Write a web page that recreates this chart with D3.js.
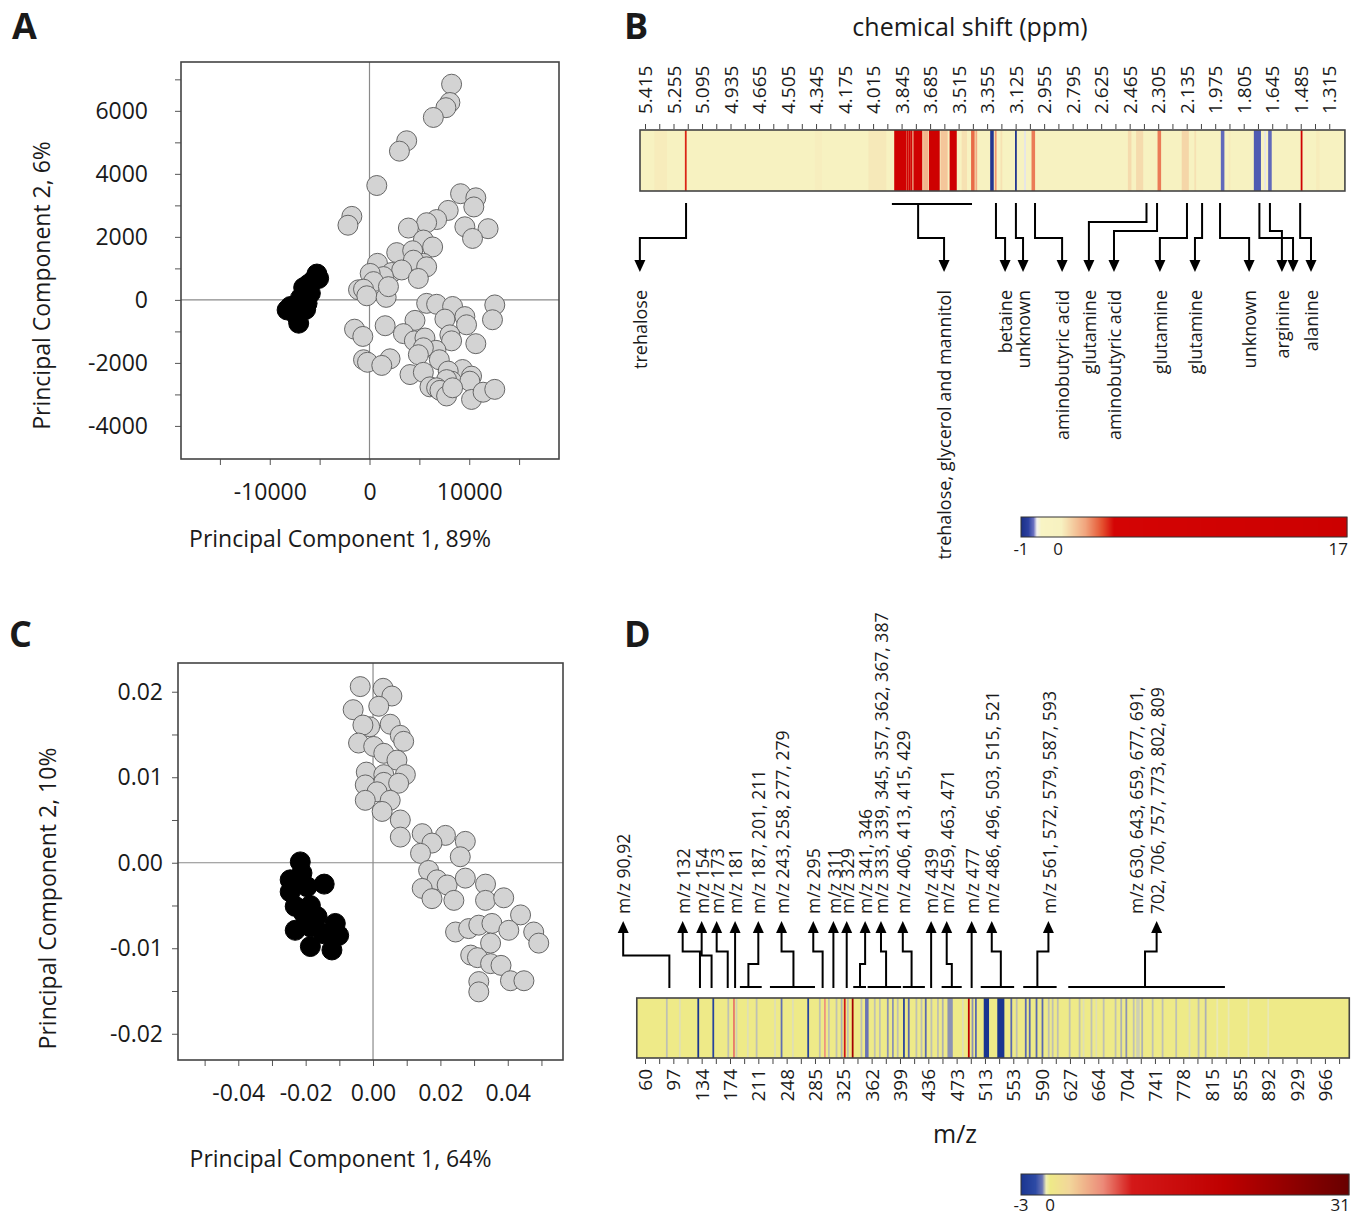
<!DOCTYPE html>
<html>
<head>
<meta charset="utf-8">
<script src="https://cdn.jsdelivr.net/npm/d3@7"></script>
<style>
  body { margin: 0; background: #fff; }
  text { font-family: "Open Sans", sans-serif; fill: #1a1a1a; }
</style>
</head>
<body>
<svg></svg>
<script>
// ---------- data ----------
// panel A: PCA scores (PC1, PC2)
const scoresA_gray = [
  [8230,6845],[8060,6265],[7660,6100],[6400,5790],[3730,5050],[3000,4720],[730,3630],
  [-1770,2650],[-2160,2370],[9130,3370],[10660,3240],[10460,2950],[7890,2840],[6730,2550],
  [5730,2450],[3900,2280],[9560,2320],[11890,2260],[10330,1950],[5400,1900],[6330,1680],
  [2730,1500],[4330,1560],[5400,1160],[4900,1000],[4400,1260],[5730,1050],[800,1160],
  [2230,870],[3230,950],[1400,740],[70,840],[400,580],[-1100,320],[-600,340],[-270,130],
  [1670,80],[1900,420],[4900,680],
  [5730,-110],[6730,-140],[8330,-210],[12560,-160],[12330,-630],[9560,-530],[9730,-790],
  [7560,-610],[4560,-650],[1570,-820],[-1500,-930],[-670,-1160],[3400,-1070],[4500,-1300],
  [5560,-1210],[8060,-1110],[8230,-1300],[10660,-1390],[6660,-1600],[5400,-1520],[4900,-1740],
  [7000,-1900],[2060,-1870],[-600,-1900],[-200,-1980],[1230,-2080],[4060,-2370],[5400,-2300],
  [9330,-2210],[7890,-2260],[10230,-2420],[8230,-2580],[7730,-2530],[10060,-2580],[6060,-2760],
  [6730,-2790],[7060,-2870],[7730,-3050],[8330,-2790],[10230,-3160],[11390,-2930],[12560,-2840]
];
const scoresA_black = [
  [-5270,820],[-5600,630],[-5100,680],[-6100,500],[-6600,390],[-5930,210],[-6930,50],
  [-6260,-110],[-6400,-300],[-7930,-210],[-7430,-260],[-8260,-320],[-7260,-530],[-7100,-740]
];

// panel C: PCA scores (PC1, PC2)
const scoresC_gray = [
  [-0.0038,0.0206],[0.0030,0.0204],[0.0056,0.0195],[0.0017,0.0183],[-0.0059,0.0179],
  [-0.0010,0.0159],[-0.0030,0.0161],[0.0051,0.0162],[0.0081,0.0149],[0.0091,0.0142],
  [-0.0043,0.0140],[0.0002,0.0136],[0.0032,0.0128],[0.0071,0.0120],[0.0096,0.0103],
  [-0.0020,0.0106],[0.0032,0.0103],[-0.0023,0.0091],[0.0032,0.0094],[0.0076,0.0093],
  [0.0012,0.0083],[-0.0023,0.0073],[0.0051,0.0073],[0.0027,0.0060],[0.0081,0.0050],
  [0.0081,0.0030],[0.0146,0.0034],[0.0215,0.0032],[0.0175,0.0023],[0.0274,0.0025],
  [0.0141,0.0011],[0.0259,0.0007],[0.0165,-0.0009],[0.0190,-0.0020],[0.0146,-0.0030],
  [0.0220,-0.0026],[0.0274,-0.0018],[0.0334,-0.0025],[0.0175,-0.0042],[0.0240,-0.0044],
  [0.0334,-0.0044],[0.0388,-0.0041],[0.0438,-0.0061],[0.0245,-0.0081],[0.0284,-0.0077],
  [0.0314,-0.0073],[0.0353,-0.0071],[0.0403,-0.0079],[0.0477,-0.0081],[0.0492,-0.0094],
  [0.0349,-0.0094],[0.0290,-0.0108],[0.0310,-0.0111],[0.0349,-0.0118],[0.0380,-0.0120],
  [0.0314,-0.0139],[0.0408,-0.0138],[0.0448,-0.0138],[0.0314,-0.0151]
];
const scoresC_black = [
  [-0.0216,0.0001],[-0.0211,-0.0012],[-0.0246,-0.0020],[-0.0145,-0.0025],[-0.0196,-0.0028],
  [-0.0246,-0.0034],[-0.0231,-0.0051],[-0.0186,-0.0050],[-0.0166,-0.0063],[-0.0206,-0.0059],
  [-0.0231,-0.0079],[-0.0186,-0.0075],[-0.0112,-0.0071],[-0.0102,-0.0085],[-0.0147,-0.0083],
  [-0.0186,-0.0098],[-0.0122,-0.0102]
];

// panel B: NMR loadings heat strip (position in tick-label units, width in bins, value)
const ppmLabels = ["5.415","5.255","5.095","4.935","4.665","4.505","4.345","4.175","4.015",
  "3.845","3.685","3.515","3.355","3.125","2.955","2.795","2.625","2.465","2.305","2.135",
  "1.975","1.805","1.645","1.485","1.315"];
const nmrStripes = [
  [0.55,7,0.3],[1.43,1,3],[6.08,4,0.25],[8.15,10,0.35],
  [8.96,7,12],[9.22,1,4],[9.29,1,11],[9.35,1,5],[9.57,5,12],[9.85,3,1.3],[10.15,6,13],
  [10.49,4,1.0],[10.81,4,13],[11.2,3,0.5],[11.5,2,2.3],[11.62,1,1.5],
  [12.17,2,-0.92],[12.3,1,1.8],[12.5,1,0.5],[13.01,1,-0.95],[13.33,1,-0.58],[13.62,2,2.1],
  [17.0,2,0.6],[17.35,4,0.6],[18.04,2,2.1],[18.95,4,0.7],[19.3,1,0.5],
  [20.26,2,-0.68],[20.5,1,0.3],[21.48,4,-0.72],[21.75,1,-0.58],[21.92,2,-0.68],
  [23.03,1,12],[23.6,2,0.3]
];
const nmrNotes = [
  {text: ["trehalose"], src: 1.44, dst: -0.18, tier: 0},
  {text: ["trehalose, glycerol and mannitol"], lo: 8.66, hi: 11.47, src: 9.58, dst: 10.49, tier: 0},
  {text: ["betaine"], src: 12.31, dst: 12.63, tier: 0},
  {text: ["unknown"], src: 13.01, dst: 13.26, tier: 0},
  {text: ["aminobutyric acid"], src: 13.68, dst: 14.63, tier: 0},
  {text: ["glutamine"], src: 17.59, dst: 15.57, tier: 2},
  {text: ["aminobutyric acid"], src: 17.96, dst: 16.45, tier: 1},
  {text: ["glutamine"], src: 19.01, dst: 18.06, tier: 0},
  {text: ["glutamine"], src: 19.54, dst: 19.29, tier: 0},
  {text: ["unknown"], src: 20.17, dst: 21.19, tier: 0},
  {text: ["arginine"], src: 21.92, dst: 22.34, tier: 1},
  {text: [], src: 21.55, dst: 22.73, tier: 0},
  {text: ["alanine"], src: 22.98, dst: 23.36, tier: 0}
];

// panel D: MS loadings heat strip
const mzLabels = ["60","97","134","174","211","248","285","325","362","399","436","473",
  "513","553","590","627","664","704","741","778","815","855","892","929","966"];
const msStripes = [
  [0.77,1,-0.55],[1.23,1,-0.45],[1.88,1,-3],[2.41,1,-2],[2.94,1,-0.55],[3.14,1,6],[3.23,1,-0.5],
  [3.63,1,-0.45],[3.94,1,-0.55],[4.59,1,-0.45],[4.82,1,-0.9],[5.22,1,-0.45],[5.76,1,-2],
  [6.17,1,-0.55],[6.35,1,5],[6.49,1,-0.55],[6.76,1,-0.55],[6.94,1,-0.6],[7.05,1,10],[7.16,1,-0.55],
  [7.33,1,22],[7.64,1,-0.55],[7.83,2,-0.8],[8.11,1,-0.55],[8.29,1,-0.55],[8.57,1,-0.7],
  [8.75,1,-0.7],[8.92,1,-0.55],[9.14,1,-2],[9.31,1,-1],[9.58,1,-0.55],[9.76,1,-0.55],[9.91,1,-1],
  [10.11,1,-0.55],[10.34,1,-0.55],[10.51,1,-0.6],[10.77,3,-0.7],[11.22,1,-0.45],[11.43,1,18],
  [11.56,1,-0.7],[11.68,1,-1],[12.05,3,-3],[12.56,4,-3],[12.93,1,-1],[13.12,1,-0.55],[13.44,1,-1],
  [13.58,1,-1],[13.82,1,-1],[14.03,1,-1],[14.25,1,-0.55],[14.39,1,-0.55],[14.57,1,-0.55],
  [14.99,1,-0.55],[15.34,1,-0.55],[15.48,1,-0.45],[15.76,1,-0.55],[15.93,1,-0.45],[16.19,1,-0.55],
  [16.61,1,-0.55],[16.81,1,-0.6],[16.99,1,-0.7],[17.25,1,-0.55],[17.4,2,-0.5],[17.55,1,-0.6],
  [17.92,1,-0.55],[18.27,1,-0.55],[18.75,1,-0.55],[19.22,1,-0.45],[19.54,1,-0.55],[19.79,1,-0.6],
  [20.2,1,-0.42],[20.6,1,-0.42],[21.3,1,-0.42],[22.0,1,-0.42]
];
const msNotes = [
  {text: ["m/z 90,92"], src: 0.86, dst: -0.77, tier: 1},
  {text: ["m/z 132"], src: 1.94, dst: 1.33, tier: 0},
  {text: ["m/z 154"], src: 2.35, dst: 2.0, tier: 1},
  {text: ["m/z 173"], src: 2.92, dst: 2.53, tier: 0},
  {text: ["m/z 181"], src: 3.18, dst: 3.18, tier: 0},
  {text: ["m/z 187, 201, 211"], lo: 3.35, hi: 4.12, src: 3.65, dst: 4.0, tier: 2},
  {text: ["m/z 243, 258, 277, 279"], lo: 4.41, hi: 6.0, src: 5.24, dst: 4.82, tier: 0},
  {text: ["m/z 295"], src: 6.27, dst: 5.94, tier: 0},
  {text: ["m/z 311"], src: 6.65, dst: 6.65, tier: 0},
  {text: ["m/z 329"], src: 7.12, dst: 7.12, tier: 0},
  {text: ["m/z 341, 346"], lo: 7.35, hi: 7.8, src: 7.59, dst: 7.77, tier: 2},
  {text: ["m/z 333, 339, 345, 357, 362, 367, 387"], lo: 7.86, hi: 9.04, src: 8.51, dst: 8.33, tier: 0},
  {text: ["m/z 406, 413, 415, 429"], lo: 9.1, hi: 9.88, src: 9.41, dst: 9.1, tier: 0},
  {text: ["m/z 439"], src: 10.1, dst: 10.1, tier: 0},
  {text: ["m/z 459, 463, 471"], lo: 10.47, hi: 11.18, src: 10.83, dst: 10.65, tier: 2},
  {text: ["m/z 477"], src: 11.53, dst: 11.53, tier: 0},
  {text: ["m/z 486, 496, 503, 515, 521"], lo: 11.85, hi: 13.03, src: 12.56, dst: 12.24, tier: 0},
  {text: ["m/z 561, 572, 579, 587, 593"], lo: 13.35, hi: 14.53, src: 13.85, dst: 14.24, tier: 0},
  {text: ["m/z 630, 643, 659, 677, 691,", "702, 706, 757, 773, 802, 809"], lo: 14.94, hi: 20.47, src: 17.65, dst: 18.06, tier: 0}
];

// colour scales
const nmrColor = d3.scaleLinear()
  .domain([-1, -0.8, -0.66, -0.57, -0.45, 0.2, 1.6, 2.6, 3.3, 17])
  .range(["#1a2f86","#2c40a0","#6a70c0","#f4f2ee","#f8f4c4","#f7f1c0","#f1a57e","#e4502f","#d40404","#cc0000"]);
const msColor = d3.scaleLinear()
  .domain([-3, -1.5, -0.8, -0.4, 0, 2, 5.5, 8.5, 18, 31])
  .range(["#1a3590","#2d4aa5","#6a74b4","#f0eeb4","#eeea88","#f2d69a","#ec8a78","#d41818","#bf0000","#680000"]);

// ---------- drawing ----------
const svg = d3.select("svg").attr("width", 1361).attr("height", 1215);

function scatter(o) {
  const g = svg.append("g");
  const x = d3.scaleLinear().domain(o.xDomain).range([o.left, o.right]);
  const y = d3.scaleLinear().domain(o.yDomain).range([o.bottom, o.top]);
  const has = (arr, d) => arr.some(v => Math.abs(v - d) < 1e-9);

  const ax = g.append("g").attr("transform", `translate(0,${o.bottom})`)
    .call(d3.axisBottom(x).tickValues(o.xTicks).tickSize(6).tickPadding(19)
      .tickFormat(d => has(o.xLabels, d) ? o.fmt(d) : ""));
  const ay = g.append("g").attr("transform", `translate(${o.left},0)`)
    .call(d3.axisLeft(y).tickValues(o.yTicks).tickSize(6).tickPadding(o.yPad)
      .tickFormat(d => has(o.yLabels, d) ? o.fmt(d) : ""));
  [ax, ay].forEach(a => {
    a.select(".domain").remove();
    a.attr("font-family", null).attr("font-size", null);
    a.selectAll("line").attr("stroke", "#555");
    a.selectAll("text").attr("font-size", "23px").attr("fill", "#1a1a1a");
  });

  // zero lines
  g.append("line").attr("x1", x(0)).attr("x2", x(0)).attr("y1", o.top).attr("y2", o.bottom)
    .attr("stroke", "#8a8a8a").attr("stroke-width", 1.2);
  g.append("line").attr("x1", o.left).attr("x2", o.right).attr("y1", y(0)).attr("y2", y(0))
    .attr("stroke", "#8a8a8a").attr("stroke-width", 1.2);

  g.selectAll(".gp").data(o.gray).join("circle")
    .attr("cx", d => x(d[0])).attr("cy", d => y(d[1])).attr("r", 10)
    .attr("fill", "#d3d3d3").attr("stroke", "#666").attr("stroke-width", 1);
  g.selectAll(".bp").data(o.black).join("circle")
    .attr("cx", d => x(d[0])).attr("cy", d => y(d[1])).attr("r", 10)
    .attr("fill", "#000").attr("stroke", "#000");

  g.append("rect").attr("x", o.left).attr("y", o.top)
    .attr("width", o.right - o.left).attr("height", o.bottom - o.top)
    .attr("fill", "none").attr("stroke", "#444").attr("stroke-width", 1.6);

  g.append("text").attr("x", (o.left + o.right) / 2 - 30).attr("y", o.xTitleY)
    .attr("text-anchor", "middle").attr("font-size", "23px").text(o.xTitle);
  g.append("text").attr("transform", `translate(${o.yTitleX},${(o.top + o.bottom) / 2 + o.yTitleShift}) rotate(-90)`)
    .attr("text-anchor", "middle").attr("dy", "0.35em").attr("font-size", "23px").text(o.yTitle);
}

scatter({
  left: 181, right: 559, top: 62, bottom: 459,
  xDomain: [-18900, 19000], yDomain: [-5050, 7550],
  xTicks: d3.range(-15000, 15001, 5000), xLabels: [-10000, 0, 10000],
  yTicks: d3.range(-4000, 7001, 1000), yLabels: [-4000, -2000, 0, 2000, 4000, 6000],
  yPad: 27, fmt: d => String(d),
  gray: scoresA_gray, black: scoresA_black,
  xTitle: "Principal Component 1, 89%", xTitleY: 547,
  yTitle: "Principal Component 2, 6%", yTitleX: 42, yTitleShift: 25
});

scatter({
  left: 178, right: 563, top: 663, bottom: 1060,
  xDomain: [-0.0579, 0.0564], yDomain: [-0.02307, 0.02336],
  xTicks: d3.range(-5, 6).map(k => k / 100), xLabels: [-0.04, -0.02, 0, 0.02, 0.04],
  yTicks: d3.range(-4, 5).map(k => k * 0.005), yLabels: [-0.02, -0.01, 0, 0.01, 0.02],
  yPad: 9, fmt: d => (Math.abs(d) < 1e-12 ? 0 : d).toFixed(2),
  gray: scoresC_gray, black: scoresC_black,
  xTitle: "Principal Component 1, 64%", xTitleY: 1167,
  yTitle: "Principal Component 2, 10%", yTitleX: 48, yTitleShift: 37
});

// o.up: tick labels above the strip, notes hang below it (panel B); otherwise the reverse
function heatStrip(o) {
  const g = svg.append("g");
  const x = d3.scaleLinear().domain([0, 24]).range([o.x0, o.x0 + 24 * o.step]);
  const bin = (x(1) - x(0)) / 16;
  const h = o.bottom - o.top;

  g.append("rect").attr("x", x(o.extent[0])).attr("y", o.top)
    .attr("width", x(o.extent[1]) - x(o.extent[0])).attr("height", h)
    .attr("fill", o.color(0));
  g.selectAll(".s").data(o.stripes).join("rect")
    .attr("x", d => x(d[0]) - d[1] * bin / 2).attr("width", d => d[1] * bin)
    .attr("y", o.top).attr("height", h)
    .attr("fill", d => o.color(d[2]));
  g.append("rect").attr("x", x(o.extent[0])).attr("y", o.top)
    .attr("width", x(o.extent[1]) - x(o.extent[0])).attr("height", h)
    .attr("fill", "none").attr("stroke", "#444").attr("stroke-width", 1.6);

  // ticks and rotated labels
  const ticks = d3.range(0, o.nTicks).map(k => k / 2);
  const axis = (o.up ? d3.axisTop(x) : d3.axisBottom(x))
    .tickValues(ticks).tickSize(5)
    .tickFormat(d => Number.isInteger(d) ? o.labels[d] : "");
  const a = g.append("g").attr("transform", `translate(0,${o.up ? o.top - 1 : o.bottom + 1})`).call(axis);
  a.select(".domain").remove();
  a.attr("font-family", null).attr("font-size", null);
  a.selectAll("line").attr("stroke", "#444");
  a.selectAll("text")
    .attr("font-family", '"Liberation Sans", Arial, sans-serif')
    .attr("font-size", "19px").attr("fill", "#1a1a1a")
    .attr("transform", "rotate(-90)")
    .attr("y", 0).attr("dy", "0.35em")
    .attr("x", o.up ? 15 : -10)
    .attr("text-anchor", o.up ? "start" : "end");

  // annotation arrows
  const dir = o.up ? 1 : -1;   // +1 = arrows point down
  const line = d3.line();
  o.notes.forEach(n => {
    const yStart = n.lo !== undefined ? o.bracketY : o.startY;
    if (n.lo !== undefined) {
      g.append("line").attr("x1", x(n.lo)).attr("x2", x(n.hi))
        .attr("y1", o.bracketY).attr("y2", o.bracketY)
        .attr("stroke", "#000").attr("stroke-width", 2);
    }
    const ey = o.tierY[n.tier];
    const headBase = o.tipY - dir * 12;
    g.append("path")
      .attr("d", line([[x(n.src), yStart], [x(n.src), ey], [x(n.dst), ey], [x(n.dst), headBase]]))
      .attr("fill", "none").attr("stroke", "#000").attr("stroke-width", 2);
    g.append("path")
      .attr("d", line([[x(n.dst) - 5.5, headBase], [x(n.dst) + 5.5, headBase], [x(n.dst), o.tipY]]) + "Z")
      .attr("fill", "#000");
    const nl = n.text.length;
    n.text.forEach((t, i) => {
      const off = (i - (nl - 1)) * 21 + 1;
      g.append("text")
        .attr("transform", `translate(${x(n.dst) + off},${o.labelY}) rotate(-90)`)
        .attr("dy", "0.35em").attr("font-size", o.noteSize)
        .attr("text-anchor", o.up ? "end" : "start").text(t);
    });
  });
  return x;
}

heatStrip({
  x0: 645, step: 28.51, extent: [-0.175, 24.55], top: 130, bottom: 191,
  stripes: nmrStripes, color: nmrColor, labels: ppmLabels, nTicks: 49, up: true,
  notes: nmrNotes, startY: 203, bracketY: 204, tierY: [238, 231, 222],
  tipY: 272, labelY: 290, noteSize: "18px"
});

heatStrip({
  x0: 645, step: 28.33, extent: [-0.29, 24.86], top: 998, bottom: 1058,
  stripes: msStripes, color: msColor, labels: mzLabels, nTicks: 50, up: false,
  notes: msNotes, startY: 988, bracketY: 987, tierY: [951.5, 955.5, 964],
  tipY: 921, labelY: 914, noteSize: "17.6px"
});

// titles over the strips
svg.append("text").attr("x", 970).attr("y", 36).attr("text-anchor", "middle")
  .attr("font-size", "25px").text("chemical shift (ppm)");
svg.append("text").attr("x", 955).attr("y", 1143).attr("text-anchor", "middle")
  .attr("font-size", "25px").text("m/z");

function colorBar(o) {
  const g = svg.append("g");
  const pos = d3.scaleLinear().domain(o.stops).range(o.range);
  const xs = d3.range(o.range[0], o.range[o.range.length - 1], 1);
  g.selectAll("rect").data(xs).join("rect")
    .attr("x", d => d).attr("y", o.top).attr("width", 1.3).attr("height", o.h)
    .attr("fill", d => o.color(pos.invert(d + 0.5)));
  g.append("rect").attr("x", o.range[0]).attr("y", o.top)
    .attr("width", o.range[o.range.length - 1] - o.range[0]).attr("height", o.h)
    .attr("fill", "none").attr("stroke", "#333").attr("stroke-width", 1);
  o.stops.forEach((s, i) => {
    g.append("text").attr("x", pos(s) + (i === o.stops.length - 1 ? 1 : 0))
      .attr("y", o.top + o.h + o.labelGap)
      .attr("text-anchor", i === o.stops.length - 1 ? "end" : "middle")
      .attr("font-size", "17px").text(s < 0 ? "-" + Math.abs(s) : String(s));
  });
}

colorBar({stops: [-1, 0, 17], range: [1021, 1058, 1347], top: 517, h: 20, labelGap: 18, color: nmrColor});
colorBar({stops: [-3, 0, 31], range: [1021, 1050, 1349], top: 1174, h: 21, labelGap: 16, color: msColor});

// panel letters
[["A", 12, 39], ["B", 624, 39], ["C", 9, 647], ["D", 624, 647]].forEach(p => {
  svg.append("text").attr("x", p[1]).attr("y", p[2])
    .attr("font-size", "36px").attr("font-weight", "bold").text(p[0]);
});
</script>
</body>
</html>
